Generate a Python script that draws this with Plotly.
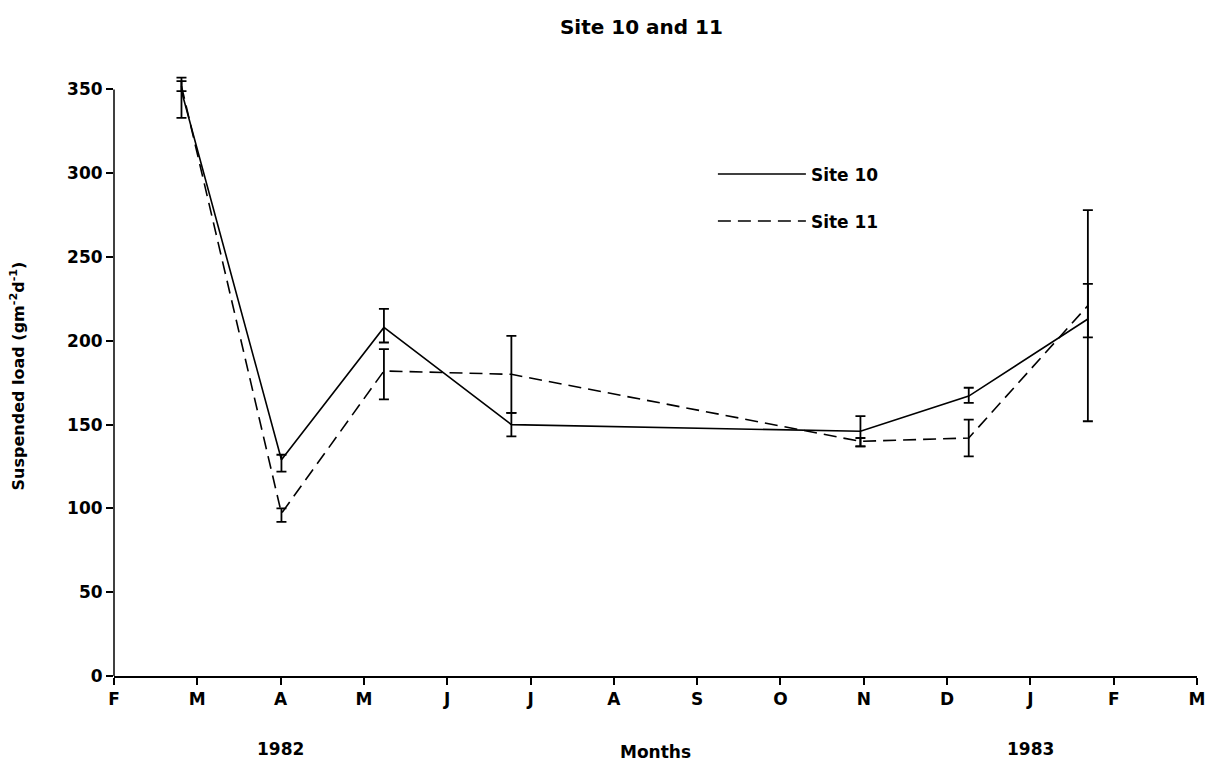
import plotly.graph_objects as go

# Sampling dates as month offsets from 1 Feb 1982
sample_month = [0.81, 2.01, 3.24, 4.77, 8.96, 10.26, 11.69]

# Site 10: mean suspended load and error bar extents
site10_load = [349, 129, 208, 150, 146, 167, 213]
site10_err_plus = [8, 3, 11, 7, 9, 5, 21]
site10_err_minus = [16, 7, 9, 7, 9, 4, 11]

# Site 11: mean suspended load and error bar extents
site11_load = [352, 97, 182, 180, 140, 142, 221]
site11_err_plus = [3, 3, 13, 23, 2, 11, 57]
site11_err_minus = [3, 5, 17, 23, 3, 11, 69]

month_ticks = list(range(14))
month_labels = ["F", "M", "A", "M", "J", "J", "A", "S", "O", "N", "D", "J", "F", "M"]
y_ticks = [0, 50, 100, 150, 200, 250, 300, 350]
y_axis_top = 350
y_view_top = 358  # headroom so caps above the last tick are not clipped

FONT = "DejaVu Sans, Liberation Sans, sans-serif"
BOLD = "bold"

fig = go.Figure()

fig.add_trace(go.Scatter(
    x=sample_month, y=site10_load, name="Site 10", mode="lines",
    legendgroup="s10",
    line=dict(color="black", width=1.6),
    error_y=dict(type="data", symmetric=False, array=site10_err_plus,
                 arrayminus=site10_err_minus, color="black", thickness=1.8, width=5),
))
fig.add_trace(go.Scatter(
    x=sample_month, y=site11_load, name="Site 11", mode="lines",
    legendgroup="s11",
    line=dict(color="black", width=1.6, dash="13px,7px"),
    error_y=dict(type="data", symmetric=False, array=site11_err_plus,
                 arrayminus=site11_err_minus, color="black", thickness=1.8, width=5),
))

# Vertical axis line stops at the top tick
fig.add_shape(type="line", xref="paper", yref="paper", x0=0, x1=0,
              y0=0, y1=y_axis_top / y_view_top,
              line=dict(color="black", width=1.5), layer="above")

fig.update_layout(
    width=1211, height=763,
    margin=dict(l=114, r=14, t=76, b=87),
    paper_bgcolor="white", plot_bgcolor="white",
    font=dict(family=FONT, color="black", size=17),
    title=dict(text="Site 10 and 11", x=0.487, xref="paper", y=0.9646, yref="container",
               xanchor="center", yanchor="middle", font=dict(size=20, weight=BOLD)),
    showlegend=True,
    legend=dict(x=0.553, y=0.866, xanchor="left", yanchor="top",
                bgcolor="rgba(0,0,0,0)", itemwidth=88, tracegroupgap=22,
                font=dict(size=17, weight=BOLD), itemclick=False),
    xaxis=dict(range=[0, 13], tickvals=month_ticks, ticktext=month_labels,
               automargin=False,
               showgrid=False, zeroline=False, showline=True, linecolor="black",
               linewidth=1.5, ticks="outside", ticklen=7, tickwidth=1.5,
               tickcolor="black", tickfont=dict(size=17, weight=BOLD),
               title=dict(text="Months", font=dict(size=17, weight=BOLD), standoff=38)),
    yaxis=dict(range=[0, y_view_top], tickvals=y_ticks, showgrid=False, zeroline=False,
               automargin=False,
               showline=False, ticks="outside",
               ticklen=7, tickwidth=1.5, tickcolor="black",
               tickfont=dict(size=17, weight=BOLD),
               title=dict(text="Suspended load (gm<sup>-2</sup>d<sup>-1</sup>)",
                          font=dict(size=16, weight=BOLD), standoff=38)),
)

# Year labels under the month axis
for yr, pos in [("1982", 2.0), ("1983", 11.0)]:
    fig.add_annotation(text=yr, x=pos, xref="x", y=-0.121, yref="paper",
                       showarrow=False, yanchor="middle",
                       font=dict(size=17, weight=BOLD))

fig.write_html("out.html")
